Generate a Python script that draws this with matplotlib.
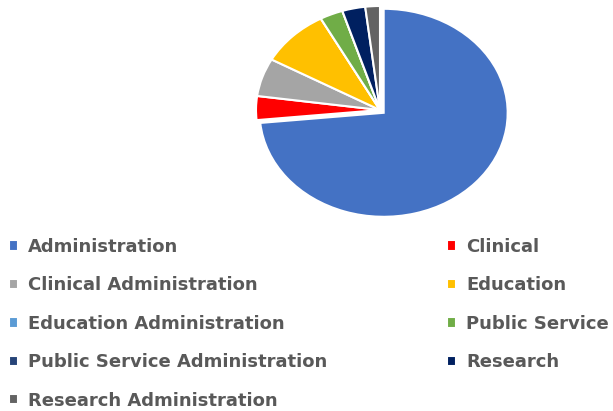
import matplotlib
matplotlib.use("Agg")
import matplotlib.pyplot as plt

categories = ["Administration", "Clinical", "Clinical Administration", "Education",
              "Education Administration", "Public Service", "Public Service Administration",
              "Research", "Research Administration"]
values = [73.3, 3.7, 5.9, 9.0, 0.0, 3.0, 0.0, 3.0, 1.9]
colors = ["#4472C4", "#FF0000", "#A5A5A5", "#FFC000", "#5B9BD5", "#70AD47",
          "#264478", "#002060", "#636363"]

W, H = 613, 411
fig = plt.figure(figsize=(W / 100, H / 100), dpi=100)

# pie axes (pixel box -> figure fractions)
l, r, t, b = 256, 504, 6, 214
ax = fig.add_axes([l / W, 1 - b / H, (r - l) / W, (b - t) / H])
explode = [0.04] + [0] * (len(values) - 1)
wedges, _ = ax.pie(values, colors=colors, startangle=90, counterclock=False,
                   explode=explode, radius=1,
                   wedgeprops=dict(edgecolor="white", linewidth=1.5))
ax.set_aspect("auto")
ax.set_xlim(-1, 1)
ax.set_ylim(-1, 1)
ax.axis("off")

font = dict(family="DejaVu Sans", weight="bold", size=13)
common = dict(frameon=False, prop=font, labelcolor="#595959", handlelength=0.5,
              handleheight=0.5, handletextpad=0.55, labelspacing=1.13,
              borderaxespad=0, borderpad=0)
left_idx = [0, 2, 4, 6, 8]
right_idx = [1, 3, 5, 7]
fig.legend([wedges[i] for i in left_idx], [categories[i] for i in left_idx],
           loc="upper left", bbox_to_anchor=(9 / W, 1 - 238 / H), **common)
fig.legend([wedges[i] for i in right_idx], [categories[i] for i in right_idx],
           loc="upper left", bbox_to_anchor=(447 / W, 1 - 238 / H), **common)

fig.savefig("out.png", dpi=100)
